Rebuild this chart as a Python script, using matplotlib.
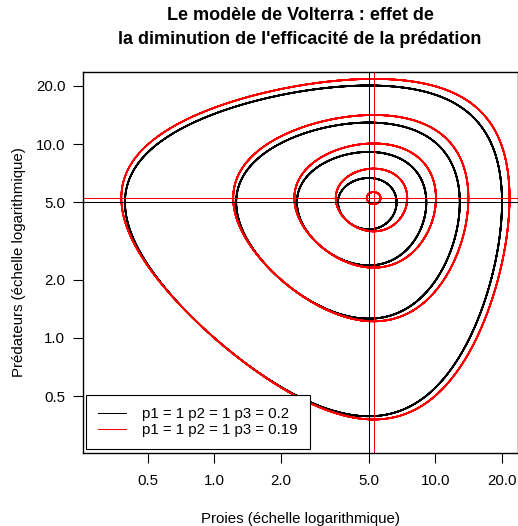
import numpy as np
import matplotlib.pyplot as plt

plt.rcParams['font.family'] = ['Liberation Sans', 'DejaVu Sans']

# parameter sets (prey growth, predator death, predation efficiency)
p1 = [1, 1]
p2 = [1, 1]
p3 = [0.2, 0.19]
colors = ['black', 'red']
labels = ['p1 = 1 p2 = 1 p3 = 0.2', 'p1 = 1 p2 = 1 p3 = 0.19']

# starting populations (prey = predators)
start = [1, 2, 3, 4, 5]

ticks = [0.5, 1, 2, 5, 10, 20]
tick_labels = ['0.5', '1.0', '2.0', '5.0', '10.0', '20.0']


def volterra(a, b, c, x0, t_end=30.0, dt=0.005):
    # RK4 on log populations: du = a - c*y, dv = -b + c*x
    u = np.log(np.array(x0, float))
    v = u.copy()

    def f(u, v):
        return a - c * np.exp(v), -b + c * np.exp(u)

    n = int(t_end / dt)
    us = [u]
    vs = [v]
    for _ in range(n):
        k1u, k1v = f(u, v)
        k2u, k2v = f(u + dt / 2 * k1u, v + dt / 2 * k1v)
        k3u, k3v = f(u + dt / 2 * k2u, v + dt / 2 * k2v)
        k4u, k4v = f(u + dt * k3u, v + dt * k3v)
        u = u + dt / 6 * (k1u + 2 * k2u + 2 * k3u + k4u)
        v = v + dt / 6 * (k1v + 2 * k2v + 2 * k3v + k4v)
        us.append(u)
        vs.append(v)
    return np.exp(np.array(us)), np.exp(np.array(vs))


fig = plt.figure(figsize=(5.18, 5.26), dpi=100)
ax = fig.add_axes([0.1597, 0.1382, 0.8398, 0.7255])

for a, b, c, col in zip(p1, p2, p3, colors):
    x, y = volterra(a, b, c, start)
    ax.plot(x, y, color=col, lw=1.2)

for a, b, c, col in zip(p1, p2, p3, colors):
    ax.axvline(b / c, color=col, lw=0.75)
    ax.axhline(a / c, color=col, lw=0.75)

ax.set_xscale('log')
ax.set_yscale('log')
ax.set_xlim(0.254, 23.6)
ax.set_ylim(0.254, 23.6)
ax.set_xticks(ticks)
ax.set_xticklabels(tick_labels)
ax.set_yticks(ticks)
ax.set_yticklabels(tick_labels)
ax.minorticks_off()
ax.tick_params(axis='both', length=7, width=0.8, labelsize=10.8)
ax.tick_params(axis='x', pad=8)
ax.tick_params(axis='y', pad=5.5)
for s in ax.spines.values():
    s.set_linewidth(1.0)

ax.set_xlabel('Proies (échelle logarithmique)', fontsize=10.8, labelpad=17)
ax.set_ylabel('Prédateurs (échelle logarithmique)', fontsize=10.8, labelpad=7)

fig.text(300 / 518, 1 - 16 / 526, 'Le modèle de Volterra : effet de',
         ha='center', va='center', fontsize=13, fontweight='bold')
fig.text(300 / 518, 1 - 39 / 526, "la diminution de l'efficacité de la prédation",
         ha='center', va='center', fontsize=13, fontweight='bold')

handles = [plt.Line2D([], [], color=col, lw=0.75) for col in colors]
leg = ax.legend(handles, labels, loc='lower left', bbox_to_anchor=(0.0076, 0.0113),
                borderaxespad=0, fontsize=10.8, fancybox=False, framealpha=1,
                edgecolor='black', borderpad=0.8, handlelength=1.85,
                handletextpad=1.1, labelspacing=0.12)
leg.get_frame().set_linewidth(0.8)

fig.savefig('out.png', dpi=100)
